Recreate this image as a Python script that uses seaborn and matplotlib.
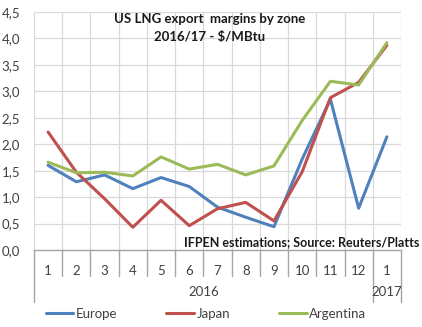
import matplotlib
matplotlib.use("Agg")
import matplotlib.pyplot as plt
from matplotlib.ticker import FuncFormatter, MultipleLocator, FixedLocator
from matplotlib.lines import Line2D
import seaborn as sns
import pandas as pd

# Monthly US LNG export margins, $/MBtu
months = ["1", "2", "3", "4", "5", "6", "7", "8", "9", "10", "11", "12", "1"]
europe = [1.60, 1.29, 1.42, 1.16, 1.37, 1.20, 0.81, 0.62, 0.44, 1.72, 2.85, 0.79, 2.14]
japan = [2.23, 1.47, 0.97, 0.43, 0.94, 0.46, 0.78, 0.90, 0.55, 1.48, 2.88, 3.17, 3.87]
argentina = [1.66, 1.46, 1.47, 1.40, 1.76, 1.53, 1.62, 1.42, 1.59, 2.45, 3.19, 3.12, 3.92]
zones = ["Europe", "Japan", "Argentina"]
colors = ["#4F81BD", "#C0504D", "#9BBB59"]
title_lines = ["US LNG export  margins by zone", "2016/17 - $/MBtu"]
source_note = "IFPEN estimations; Source: Reuters/Platts"

rows = []
for zone, vals in zip(zones, [europe, japan, argentina]):
    for i, v in enumerate(vals):
        rows.append({"idx": i, "margin": v, "zone": zone})
df = pd.DataFrame(rows)

sns.set_theme(style="white")
plt.rcParams["font.family"] = ["Lato", "DejaVu Sans"]

fig = plt.figure(figsize=(4.22, 3.27), dpi=100)
ax = fig.add_axes([34 / 422, 1 - 250 / 327, 367 / 422, 238 / 327])

sns.lineplot(data=df, x="idx", y="margin", hue="zone", hue_order=zones,
             palette=colors, linewidth=2.2, ax=ax, legend=False)

ax.set_xlim(-0.5, len(months) - 0.5)
ax.set_ylim(0, 4.5)
ax.yaxis.set_major_locator(MultipleLocator(0.5))
ax.yaxis.set_major_formatter(FuncFormatter(lambda v, p: f"{v:.1f}".replace(".", ",")))
ax.tick_params(axis="y", length=0, pad=10, labelsize=9.5, labelcolor="#404040")

# category boundaries carry the vertical grid
ax.xaxis.set_major_locator(FixedLocator(range(len(months))))
ax.set_xticklabels(months)
ax.xaxis.set_minor_locator(FixedLocator([i - 0.5 for i in range(len(months) + 1)]))
ax.tick_params(axis="x", which="both", length=0, pad=11, labelsize=9.5, labelcolor="#404040")
ax.grid(True, which="major", axis="y", color="#D9D9D9", linewidth=0.9)
ax.grid(True, which="minor", axis="x", color="#D9D9D9", linewidth=0.9)
ax.set_xlabel("")
ax.set_ylabel("")

for s in ["top", "right", "left"]:
    ax.spines[s].set_visible(False)
ax.spines["bottom"].set_color("#A6A6A6")
ax.spines["bottom"].set_linewidth(1.0)

# multi-level category axis: month separators and year row
trans = ax.get_xaxis_transform()
px = 1 / 238  # one pixel in axes-height units
for b in range(len(months) + 1):
    x = b - 0.5
    long_line = b in (0, 12, 13)
    y_end = -52 * px if long_line else -26 * px
    ax.add_line(Line2D([x, x], [0, y_end], transform=trans, color="#A6A6A6",
                       linewidth=1.0, clip_on=False))
ax.text(5.5, -42 * px, "2016", transform=trans, ha="center", va="center",
        fontsize=9.5, color="#404040")
ax.text(12, -42 * px, "2017", transform=trans, ha="center", va="center",
        fontsize=9.5, color="#404040")

# title and source note
fig.text(210 / 422, 1 - 19 / 327, title_lines[0], ha="center", va="center",
         fontsize=9.5, fontweight="bold", color="#1a1a1a")
fig.text(210 / 422, 1 - 37 / 327, title_lines[1], ha="center", va="center",
         fontsize=9.5, fontweight="bold", color="#1a1a1a")
fig.text(419 / 422, 1 - 242 / 327, source_note, ha="right", va="center",
         fontsize=9, fontweight="bold", color="#1a1a1a")

handles = [Line2D([], [], color=c, linewidth=2.2) for c in colors]
fig.legend(handles, zones, loc="center", bbox_to_anchor=(206 / 422, 1 - 314 / 327),
           ncol=3, frameon=False, fontsize=9.5, handlelength=2.1, handletextpad=0.2,
           columnspacing=3.7, labelcolor="#404040")

fig.savefig("out.png", dpi=100, facecolor="white")
